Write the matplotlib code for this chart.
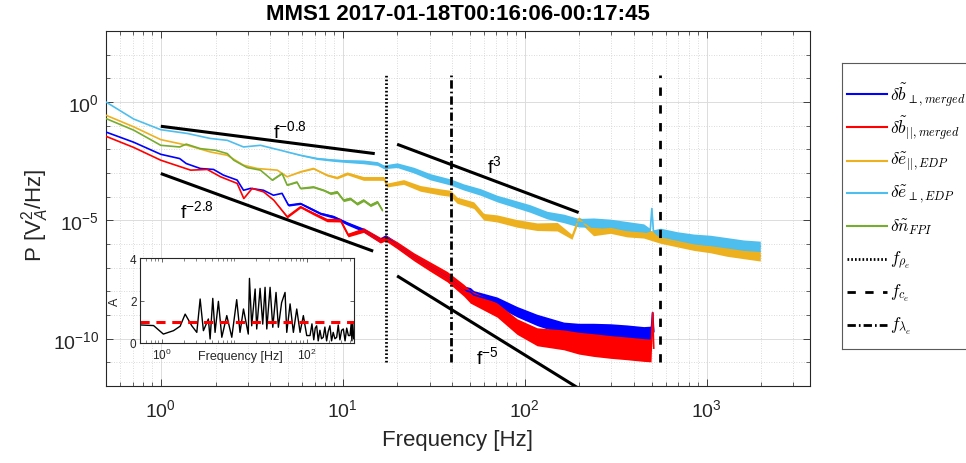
import numpy as np
import matplotlib
matplotlib.use("Agg")
import matplotlib.pyplot as plt
from matplotlib.ticker import FixedLocator, LogLocator, NullFormatter, LogFormatterSciNotation

plt.rcParams['font.family'] = ['Liberation Sans', 'DejaVu Sans']
plt.rcParams['mathtext.fontset'] = 'custom'
plt.rcParams['mathtext.rm'] = 'Liberation Sans'
plt.rcParams['mathtext.it'] = 'Liberation Sans:italic'
plt.rcParams['mathtext.bf'] = 'Liberation Sans:bold'

# ---------------- data ----------------
title = "MMS1 2017-01-18T00:16:06-00:17:45"

f_bperp = [0.5, 0.71, 1.0, 1.27, 1.38, 1.65, 1.95, 2.21, 2.63, 2.85, 3.11, 3.67, 4.16, 4.64,
           5.03, 5.86, 6.65, 7.54, 8.89, 10.6, 13.0, 16.1, 17.2, 19.9, 24.6, 30.3, 37.5, 46.2,
           50.3, 52.5, 70.5, 90.8, 117, 164, 198, 239, 296, 365, 451, 495, 505, 512]
logP_bperp = [-1.27, -1.70, -2.21, -2.39, -2.60, -2.81, -2.85, -3.09, -3.30, -3.73, -3.65, -3.73,
              -3.94, -3.86, -4.36, -4.29, -4.50, -4.71, -4.85, -5.13, -5.41, -5.84, -5.70, -6.05,
              -6.54, -6.96, -7.38, -7.95, -8.02, -8.15, -8.44, -8.86, -9.21, -9.56, -9.63, -9.63,
              -9.65, -9.70, -9.77, -9.75, -8.9, -9.7]
w_bperp = [0, 0, 0, 0, 0, 0, 0, 0, 0, 0, 0, 0, 0, 0,
           0.04, 0.04, 0.05, 0.05, 0.06, 0.07, 0.08, 0.1, 0.1, 0.12, 0.13, 0.15, 0.16, 0.18,
           0.18, 0.18, 0.2, 0.22, 0.24, 0.26, 0.28, 0.28, 0.28, 0.28, 0.28, 0.28, 0.05, 0.05]

f_bpar = [0.5, 0.71, 1.0, 1.46, 1.80, 2.13, 2.63, 2.86, 3.18, 3.68, 4.18, 4.95, 5.86, 6.9, 8.2,
          9.7, 10.7, 13.0, 16.1, 17.2, 19.9, 24.6, 30.3, 37.5, 46.2, 50.3, 70.5, 90.8, 117, 164,
          198, 239, 296, 365, 451, 495, 505, 512]
logP_bpar = [-1.45, -1.92, -2.46, -2.88, -2.85, -3.16, -3.44, -4.08, -3.65, -3.80, -4.15, -4.85,
             -4.43, -4.71, -4.99, -4.99, -5.62, -5.41, -5.84, -5.75, -6.05, -6.54, -6.96, -7.38,
             -7.95, -8.23, -8.79, -9.49, -9.92, -10.05, -10.19, -10.27, -10.35, -10.41, -10.48,
             -10.50, -8.9, -10.4]
w_bpar = [0, 0, 0, 0, 0, 0, 0, 0, 0, 0, 0,
          0.05, 0.05, 0.06, 0.07, 0.08, 0.08, 0.1, 0.12, 0.12, 0.15, 0.17, 0.2, 0.22, 0.25, 0.27,
          0.3, 0.33, 0.38, 0.42, 0.46, 0.48, 0.48, 0.48, 0.48, 0.48, 0.05, 0.05]

f_epar = [0.5, 0.71, 1.0, 1.4, 1.87, 2.32, 2.85, 3.39, 4.37, 4.95, 5.86, 6.9, 8.2, 9.3, 10.6,
          13.0, 16.8, 17.5, 21.6, 26.7, 34.4, 39.1, 42.5, 52.5, 59.6, 70.5, 90.8, 117, 151, 182,
          198, 239, 296, 365, 451, 557, 687, 849, 1047, 1294, 1596, 1972]
logP_epar = [-0.56, -1.05, -1.59, -1.83, -2.11, -2.25, -2.67, -2.81, -2.88, -3.16, -2.95, -2.81,
             -3.09, -3.20, -3.02, -3.23, -3.23, -3.51, -3.38, -3.65, -3.80, -3.86, -4.15, -4.36,
             -4.85, -4.92, -5.13, -5.27, -5.27, -5.70, -4.95, -5.45, -5.35, -5.50, -5.55, -5.75,
             -5.90, -6.05, -6.15, -6.30, -6.40, -6.50]
w_epar = [0, 0, 0, 0, 0, 0, 0, 0, 0, 0, 0.02, 0.03, 0.04, 0.05, 0.06, 0.08, 0.08, 0.08, 0.1, 0.12,
          0.13, 0.13, 0.13, 0.14, 0.14, 0.15, 0.16, 0.16, 0.18, 0.1, 0.1, 0.2, 0.2, 0.2, 0.2,
          0.22, 0.22, 0.22, 0.22, 0.22, 0.22, 0.22]

f_eperp = [0.5, 0.71, 1.0, 1.4, 1.87, 2.32, 2.85, 3.53, 4.55, 5.86, 7.23, 8.9, 10.6, 13.0, 15.5,
           16.8, 19.9, 24.6, 30.3, 39.1, 46.2, 57.1, 70.5, 87, 107, 133, 164, 198, 239, 296, 365,
           451, 490, 500, 510, 557, 687, 849, 1047, 1294, 1596, 1972]
logP_eperp = [0.0, -0.72, -1.17, -1.33, -1.54, -1.62, -1.90, -1.83, -2.04, -2.25, -2.39, -2.46,
              -2.50, -2.53, -2.60, -2.74, -2.67, -2.88, -3.16, -3.38, -3.59, -3.80, -4.08, -4.29,
              -4.50, -4.78, -4.92, -5.10, -5.10, -5.15, -5.25, -5.35, -5.40, -4.50, -5.45, -5.55,
              -5.70, -5.80, -5.85, -5.95, -6.05, -6.10]
w_eperp = [0, 0, 0, 0, 0, 0, 0, 0, 0, 0.02, 0.04, 0.05, 0.06, 0.08, 0.08, 0.08, 0.1, 0.12, 0.13,
           0.13, 0.13, 0.14, 0.14, 0.15, 0.16, 0.16, 0.18, 0.18, 0.2, 0.2, 0.2, 0.2, 0.05, 0.05,
           0.05, 0.22, 0.22, 0.22, 0.22, 0.22, 0.22, 0.22]

f_n = [0.5, 0.71, 1.0, 1.27, 1.38, 1.65, 2.0, 2.32, 2.52, 2.98, 3.53, 4.1, 4.64, 4.95, 5.6, 5.86,
       6.9, 7.87, 8.57, 9.31, 10.1, 11.0, 12.0, 13.0, 14.2, 15.5, 16.5]
logP_n = [-0.70, -1.19, -1.83, -1.90, -1.78, -1.97, -2.04, -2.18, -2.46, -2.77, -2.88, -3.30,
          -3.02, -3.51, -3.38, -3.65, -3.59, -3.73, -3.86, -3.80, -4.15, -4.08, -4.30, -4.15,
          -4.36, -4.22, -4.57]
w_n = [0, 0, 0, 0, 0, 0, 0, 0, 0, 0, 0, 0.02, 0.02, 0.02, 0.03, 0.03, 0.04, 0.04, 0.05, 0.06,
       0.06, 0.06, 0.06, 0.06, 0.06, 0.06, 0.06]

series_labels = [r'$\delta\tilde{b}_{\perp,merged}$', r'$\delta\tilde{b}_{||,merged}$',
                 r'$\delta\tilde{e}_{||,EDP}$', r'$\delta\tilde{e}_{\perp,EDP}$',
                 r'$\delta\tilde{n}_{FPI}$']
series_colors = ['#0000FF', '#FF0000', '#EDB120', '#4DBEEE', '#77AC30']

# characteristic frequencies (Hz)
f_char = [17.2, 552.0, 39.6]
f_char_labels = [r'$f_{\rho_e}$', r'$f_{c_e}$', r'$f_{\lambda_e}$']
f_char_ymin, f_char_ymax = 1e-11, 13.5

# power-law guide lines
fit_f0 = [1.0, 1.0, 19.9, 19.9]
fit_f1 = [15.0, 14.7, 198.0, 200.0]
fit_P0 = [0.0944, 9.5e-4, 0.0164, 4.5e-8]
fit_P1 = [6.6e-3, 5.0e-7, 2.14e-5, 7.6e-13]
fit_labels = ['f$^{-0.8}$', 'f$^{-2.8}$', 'f$^{3}$', 'f$^{-5}$']
fit_label_f = [4.16, 1.28, 62.4, 54.3]
fit_label_P = [0.032, 1.36e-5, 1.08e-3, 9.4e-12]

# inset: anisotropy A vs frequency
inset_f = [0.50, 0.77, 1.05, 1.45, 1.79, 2.10, 2.59, 3.04, 3.38, 3.75, 4.39, 4.64, 5.05, 5.43,
           6.04, 6.73, 7.88, 9.24, 10.8, 12.0, 13.4, 15.6, 16.2, 17.4, 19.4, 20.4, 22.7, 24.7,
           26.6, 28.1, 31.2, 34.0, 37.7, 40.6, 45.0, 50.2, 53.0, 58.9, 65.4, 72.8, 80.9, 89.8,
           100, 111, 118, 125, 131, 137, 144, 152, 160, 169, 178, 188, 198, 209, 220, 232, 245,
           259, 272, 287, 303, 320, 338, 356, 376, 396, 410, 420, 431, 445]
inset_A = [0.85, 0.82, 0.42, 0.58, 0.79, 1.36, 0.81, 0.50, 2.07, 0.58, 1.13, 0.19, 2.10, 0.50,
           1.96, 0.27, 1.29, 0.27, 2.04, 0.50, 1.60, 0.42, 3.04, 0.81, 2.54, 0.66, 2.57, 0.89,
           2.62, 0.66, 2.62, 0.74, 2.38, 0.74, 1.90, 2.38, 0.50, 1.84, 0.50, 1.60, 0.50, 1.29,
           0.35, 0.35, 0.90, 0.15, 0.70, 0.81, 0.10, 0.60, 0.20, 0.27, 0.75, 0.10, 0.55, 0.81,
           0.10, 0.50, 0.20, 0.27, 0.85, 0.15, 0.60, 0.66, 0.10, 0.70, 0.35, 0.35, 0.90, 0.10,
           0.97, 0.20]
inset_threshold = 1.0

# ---------------- figure ----------------
W, H = 966, 464
fig = plt.figure(figsize=(W / 100, H / 100), dpi=100)
dark = '#262626'

def fig_rect(x0, y0, x1, y1):
    return [x0 / W, 1 - y1 / H, (x1 - x0) / W, (y1 - y0) / H]

ax = fig.add_axes(fig_rect(106, 32, 810, 387))
ax.set_xscale('log')
ax.set_yscale('log')
ax.set_xlim(0.5, 3700)
ax.set_ylim(1e-12, 1e3)

datasets = [(f_bperp, logP_bperp, w_bperp), (f_bpar, logP_bpar, w_bpar),
            (f_epar, logP_epar, w_epar), (f_eperp, logP_eperp, w_eperp), (f_n, logP_n, w_n)]
for (fx, lp, w), col in zip(datasets, series_colors):
    fx = np.array(fx, float)
    lp = np.array(lp, float)
    w = np.array(w, float)
    ax.fill_between(fx, 10 ** (lp - w), 10 ** (lp + w), color=col, lw=0, zorder=2)
    ax.plot(fx, 10 ** lp, color=col, lw=1.2, zorder=3)

vstyles = [(0, (0.6, 0.75)), (0, (3.0, 3.4)), (0, (3.0, 1.1, 0.6, 1.1))]
for fc, ls in zip(f_char, vstyles):
    ax.vlines(fc, f_char_ymin, f_char_ymax, colors='k', linestyles=[ls], lw=2.0, zorder=5)

for i in range(len(fit_f0)):
    ax.plot([fit_f0[i], fit_f1[i]], [fit_P0[i], fit_P1[i]], color='k', lw=2.2, zorder=4,
            solid_capstyle='butt')
    ax.text(fit_label_f[i], fit_label_P[i], fit_labels[i], fontsize=14, ha='left',
            va='baseline', color='k', zorder=6)

ax.xaxis.set_major_locator(FixedLocator([1, 10, 100, 1000]))
ax.xaxis.set_minor_locator(LogLocator(base=10, subs=np.arange(2, 10), numticks=20))
ax.xaxis.set_minor_formatter(NullFormatter())
ax.xaxis.set_major_formatter(LogFormatterSciNotation())
ax.yaxis.set_major_locator(FixedLocator([1e-10, 1e-5, 1e0]))
ax.yaxis.set_minor_locator(LogLocator(base=10, subs=(1.0,), numticks=30))
ax.yaxis.set_minor_formatter(NullFormatter())
ax.yaxis.set_major_formatter(LogFormatterSciNotation())

ax.tick_params(which='both', direction='in', top=True, right=True, colors=dark)
ax.tick_params(which='major', length=5, width=0.6, labelsize=14, labelcolor=dark)
ax.tick_params(axis='x', which='major', pad=9)
ax.tick_params(axis='y', which='major', pad=5)
ax.tick_params(which='minor', length=3, width=0.5)
for s in ax.spines.values():
    s.set_color(dark)
    s.set_linewidth(0.8)
ax.grid(which='major', color='#dcdcdc', lw=0.7, ls='-', zorder=0)
ax.grid(which='minor', color='#cfcfcf', lw=0.6, ls=(0, (1, 2)), zorder=0)
ax.set_axisbelow(True)

ax.set_xlabel('Frequency [Hz]', fontsize=16, color=dark, va='center')
ax.xaxis.set_label_coords(0.5, (387 - 441) / 355)
ax.set_ylabel(r'P [V$_A^2$/Hz]', fontsize=16, color=dark, va='center')
ax.yaxis.set_label_coords((35 - 106) / 704, (387 - 215) / 355)

fig.text((106 + 810) / 2 / W, 1 - 15 / H, title, fontsize=16, fontweight='bold',
         ha='center', va='center', color='k')

# ---------------- inset ----------------
ins = fig.add_axes(fig_rect(140, 259, 354, 344))
ins.set_facecolor('white')
ins.set_xscale('log')
ins.set_xlim(0.5, 449)
ins.set_ylim(0, 4)
ins.plot(inset_f, inset_A, color='k', lw=1.0)
ins.plot([0.5, 449], [inset_threshold, inset_threshold], color='#FF0000', lw=2.2,
         ls=(0, (3.0, 2.2)))
ins.xaxis.set_major_locator(FixedLocator([1, 100]))
ins.xaxis.set_minor_locator(LogLocator(base=10, subs=np.arange(1, 10), numticks=20))
ins.xaxis.set_minor_formatter(NullFormatter())
ins.xaxis.set_major_formatter(LogFormatterSciNotation())
ins.yaxis.set_major_locator(FixedLocator([0, 2, 4]))
ins.tick_params(which='both', direction='in', top=True, right=True, colors=dark)
ins.tick_params(which='major', length=3, width=0.5, labelsize=8.5, labelcolor=dark, pad=2.5)
ins.tick_params(which='minor', length=2, width=0.4)
for s in ins.spines.values():
    s.set_color(dark)
    s.set_linewidth(0.8)
ins.text((240.7 - 140) / 214, (344 - 357) / 85, 'Frequency [Hz]', transform=ins.transAxes,
         fontsize=9, ha='center', va='center', color=dark)
ins.text((115 - 140) / 214, 0.5, 'A', transform=ins.transAxes, fontsize=9, rotation=90,
         ha='center', va='center', color=dark)

# ---------------- legend (drawn manually) ----------------
lax = fig.add_axes(fig_rect(842, 64, 982, 350))
lax.set_xlim(0, 140)
lax.set_ylim(286, 0)
lax.set_xticks([])
lax.set_yticks([])
for s in lax.spines.values():
    s.set_color('#5a5a5a')
    s.set_linewidth(0.8)
rows = [31, 64, 98, 130, 163, 196, 229, 262]
leg_styles = [('-', c, 1.5) for c in series_colors] + [(vs, 'k', 2.0) for vs in vstyles]
leg_labels = series_labels + f_char_labels
for y, (ls, c, lw), lab in zip(rows, leg_styles, leg_labels):
    lax.plot([5, 45], [y, y], color=c, lw=lw, ls=ls)
    lax.text(48, y, lab, fontsize=12.5, ha='left', va='center', color='k',
             math_fontfamily='cm')

fig.savefig('out.png', dpi=100)
